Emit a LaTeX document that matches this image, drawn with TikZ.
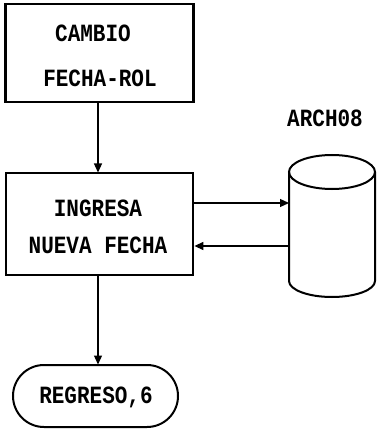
\documentclass[tikz,border=0pt]{standalone}
\usepackage{fontspec}
\setmainfont{Liberation Mono}
\usetikzlibrary{arrows.meta,shapes.misc}
\newcommand{\tallt}[1]{\scalebox{1}[1.18]{#1}}
\begin{document}
\begin{tikzpicture}[x=1pt,y=-1pt,
  box/.style={draw,line width=2.8pt,inner sep=0pt},
  lbl/.style={font=\fontsize{21}{21}\selectfont\bfseries,inner sep=0pt},
  conn/.style={line width=1.3pt,-{Triangle[length=9pt,width=8pt]}}]
\useasboundingbox (0,0) rectangle (377,430);
% boxes
\node[box,minimum width=188pt,minimum height=98pt] (b1) at (99.5,53) {};
\node[lbl] (t1a) at (93,33) {\tallt{CAMBIO}};
\node[lbl] (t1b) at (100,78) {\tallt{FECHA-ROL}};
\node[box,minimum width=187pt,minimum height=102pt] (b2) at (99.5,224) {};
\node[lbl] (t2a) at (98,208) {\tallt{INGRESA}};
\node[lbl] (t2b) at (98,245) {\tallt{NUEVA FECHA}};
\node[draw,line width=2pt,rounded rectangle,minimum width=165pt,minimum height=62pt,inner sep=0pt] (b3) at (95.5,396) {};
\node[lbl] (t3) at (96,397) {\tallt{REGRESO,6}};
% cylinder
\draw[line width=2pt] (332,172) ellipse [x radius=43,y radius=17];
\draw[line width=2pt] (289,172) -- (289,281) arc[start angle=180,end angle=0,x radius=43,y radius=16] -- (375,172);
\coordinate (cyl1) at (289,203);
\coordinate (cyl2) at (289,246);
\node[lbl] (ar) at (325,118) {\tallt{ARCH08}};
% connectors
\draw[conn] (b1.south -| 98,0) -- (98,172.5);
\draw[conn] (98,275) -- (98,364.5);
\draw[conn] (b2.east |- cyl1) -- (cyl1);
\draw[conn] (cyl2) -- (b2.east |- cyl2);
\end{tikzpicture}
\end{document}
